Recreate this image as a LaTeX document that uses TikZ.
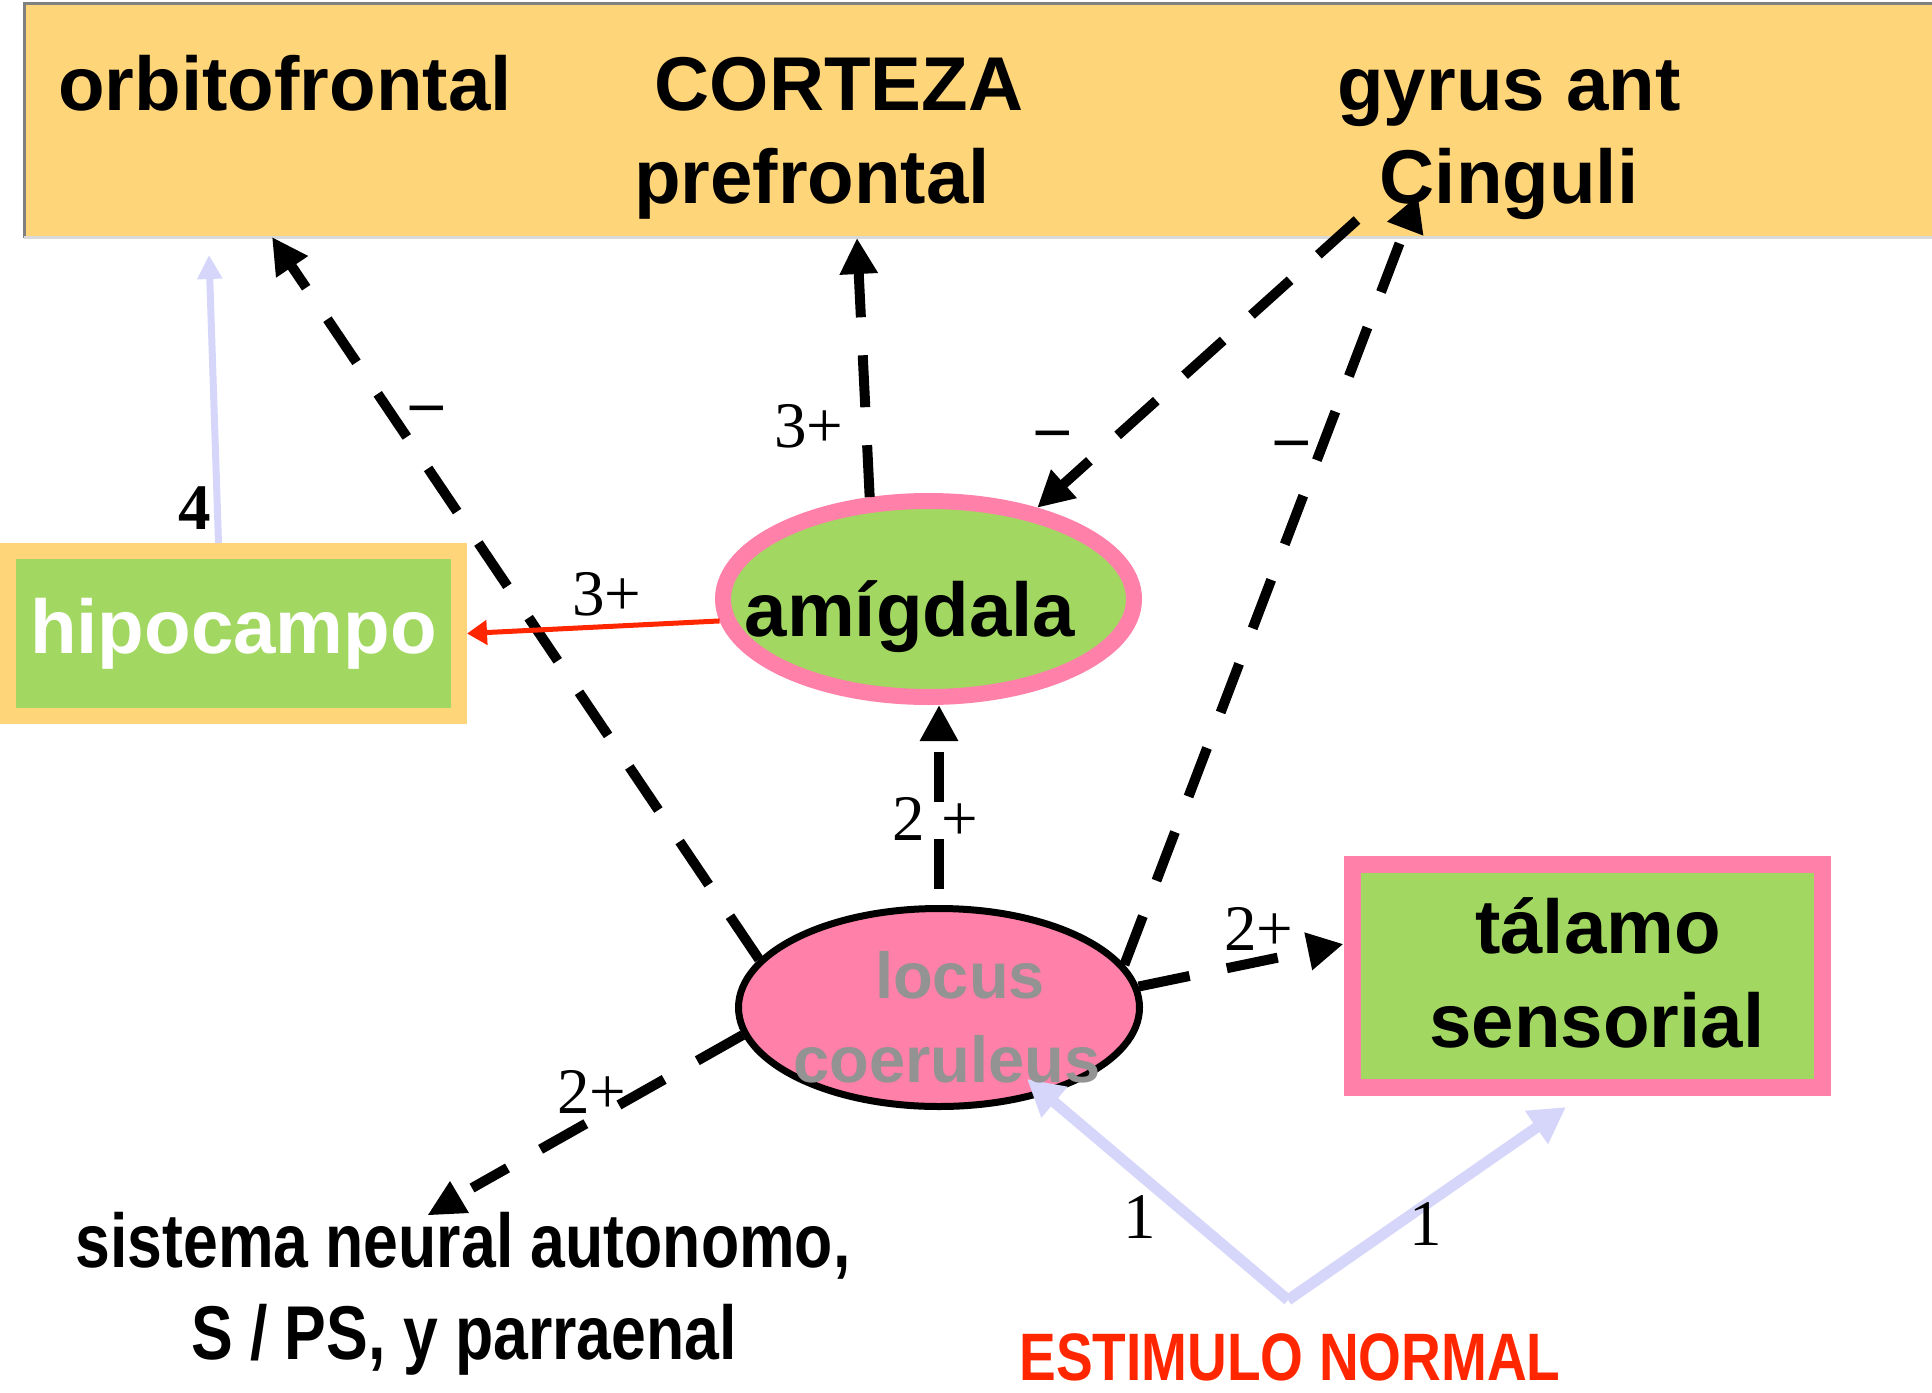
\documentclass[tikz,border=0pt]{standalone}
\usepackage{fontspec}
\setmainfont{Liberation Sans}
\newfontfamily\narrowsans[FakeStretch=0.82]{Liberation Sans}
\newfontfamily\labelserif{Liberation Serif}
\usetikzlibrary{arrows.meta, shapes.geometric}

\definecolor{bandorange}{RGB}{255,213,122}
\definecolor{leafgreen}{RGB}{162,216,98}
\definecolor{rosepink}{RGB}{255,128,168}
\definecolor{stimlav}{RGB}{214,214,251}
\definecolor{stimred}{RGB}{255,38,0}
\definecolor{lcgray}{RGB}{147,147,147}

\begin{document}
\begin{tikzpicture}[x=0.1mm, y=-0.1mm,
    every node/.style={inner sep=0pt},
    region/.style={font=\fontsize{21.7}{26}\selectfont\bfseries, anchor=base},
    narrowtxt/.style={font=\fontsize{21.7}{26}\narrowsans\bfseries, anchor=base},
    gain/.style={font=\fontsize{18.5}{22}\labelserif, anchor=base},
    excite/.style={line width=1mm, dash pattern=on 5.2mm off 3.8mm},
    excitetip/.style={excite, -{Triangle[length=3.6mm,width=3.6mm]}},
    stimline/.style={stimlav, line width=1.1mm, -{Triangle[length=3.6mm,width=3.8mm]}}]
    \useasboundingbox (0,0) rectangle (1932,1393);

    % cortex band
    \node[fill=bandorange, minimum width=190.7mm, minimum height=23.3mm] (cortex) at (978.5,120.5) {};
    \draw[gray, line width=0.3mm] (cortex.south west) -- (cortex.north west) -- (cortex.north east);
    \draw[black!15, line width=0.3mm] (cortex.south west) -- (cortex.south east);
    \node[region] (orbito) at (285,110) {orbitofrontal};
    \node[region] (corteza) at (839,110) {CORTEZA};
    \node[region] (prefront) at (812,203) {prefrontal};
    \node[region] (gyrus) at (1509,110) {gyrus ant};
    \node[region] (cinguli) at (1509,203) {Cinguli};

    % boxes and ellipses
    \node[draw=bandorange, fill=leafgreen, line width=1.6mm, minimum width=45.1mm, minimum height=16.5mm,
          font=\fontsize{21.7}{26}\selectfont\bfseries, text=white] (hipo) at (233.5,633.5) {hipocampo};
    \node[ellipse, draw=rosepink, fill=leafgreen, line width=1.6mm, minimum width=41.1mm, minimum height=19.6mm] (amig) at (928.5,599) {};
    \node[ellipse, draw=black, fill=rosepink, line width=0.7mm, minimum width=40.1mm, minimum height=19.8mm] (locus) at (939,1007.5) {};
    \node[draw=rosepink, fill=leafgreen, line width=1.7mm, minimum width=47mm, minimum height=22.3mm] (tal) at (1587,976) {};

    \coordinate (ofTip) at (272,237);
    \coordinate (pfTip) at (857,238);
    \coordinate (cgOut) at (1357,220);
    \coordinate (cgTip) at (1418,195);
    \coordinate (hipTip) at (209,255);
    \coordinate (anEnd) at (472,1188);
    \coordinate (anTip) at (450,1181);
    \coordinate (stim) at (1288,1300);
    \coordinate (lcIn) at (1027,1079);

    % connectors
    \draw[excitetip] (locus.165) -- (ofTip);
    \draw[excitetip] (amig.120) -- (pfTip);
    \draw[excitetip] (cgOut) -- (amig.40);
    \draw[excitetip] (locus.13) -- (cgTip);
    \draw[excitetip, dash pattern=on 5mm off 3.7mm, dash phase=7.1mm] (locus.north) -- (locus.north |- amig.south);
    \draw[excitetip] (locus.6) -- ([yshift=3.2mm]tal.west);
    \draw[excite] (locus.188) -- (anEnd);
    \fill (anTip) -- ++(-22,34) -- ++(41,-2) -- cycle;
    \draw[stimred, line width=0.5mm, -{Triangle[length=2mm,width=2.4mm]}] (amig.186) -- (hipo.east);
    \draw[stimlav, line width=0.7mm, -{Triangle[length=2.4mm,width=2.4mm]}] ([xshift=-1.5mm]hipo.north) -- (hipTip);
    \draw[stimline] (stim) -- (lcIn);
    \draw[stimline] (stim) -- ([xshift=-2.1mm,yshift=-1.1mm]tal.south);

    % texts inside shapes
    \node[region] (amigTxt) at (910,636) {amígdala};
    \node[font=\fontsize{18.5}{22}\selectfont\bfseries, text=lcgray, anchor=base] (locusTxt) at (960,998) {locus};
    \node[font=\fontsize{18.5}{22}\selectfont\bfseries, text=lcgray, anchor=base] (coerTxt) at (947,1082) {coeruleus};
    \node[region] (talTxt) at (1598,953) {tálamo};
    \node[region] (sensTxt) at (1597,1047) {sensorial};
    \node[narrowtxt] (sistema) at (463,1267) {sistema neural autonomo,};
    \node[narrowtxt] (symp) at (464,1359) {S / PS, y parraenal};
    \node[narrowtxt, font=\fontsize{19.1}{23}\narrowsans\bfseries, text=stimred] (estim) at (1290,1380) {ESTIMULO NORMAL};

    % gains
    \node[gain] (g3a) at (809,447) {3+};
    \node[gain] (g3b) at (607,615) {3+};
    \node[gain] (g2a) at (935,840) {2 +};
    \node[gain] (g2b) at (1259,950) {2+};
    \node[gain] (g2c) at (592,1113) {2+};
    \node[gain] (g4) at (195,529) {\bfseries 4};
    \node[gain] (m1) at (427,423) {\bfseries –};
    \node[gain] (m2) at (1053,448) {\bfseries –};
    \node[gain] (m3) at (1292,458) {\bfseries –};
    \node[gain] (s1) at (1140,1238) {1};
    \node[gain] (s2) at (1426,1245) {1};
\end{tikzpicture}
\end{document}
